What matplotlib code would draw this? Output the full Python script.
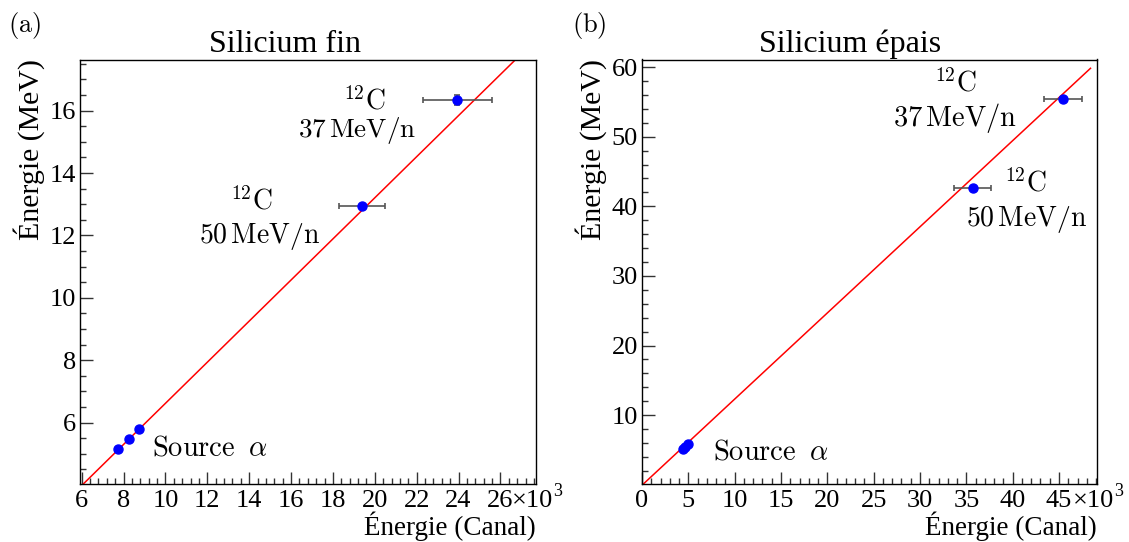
import numpy as np
import matplotlib
matplotlib.use("Agg")
import matplotlib.pyplot as plt
from matplotlib.ticker import MultipleLocator

plt.rcParams['font.family'] = ['Liberation Serif', 'DejaVu Serif']
plt.rcParams['mathtext.fontset'] = 'cm'

# Calibration points, channel values in units of 10^3
fin_canal = [7.74, 8.25, 8.73, 19.40, 23.95]
fin_canal_err = [0.0, 0.0, 0.0, 1.10, 1.67]
fin_energie = [5.157, 5.486, 5.805, 12.93, 16.34]
fin_energie_err = [0.0, 0.0, 0.0, 0.0, 0.16]
fin_fit = (0.026, 0.659)          # intercept, slope

epais_canal = [4.40, 4.66, 4.92, 35.67, 45.46]
epais_canal_err = [0.0, 0.0, 0.0, 2.04, 2.03]
epais_energie = [5.157, 5.486, 5.805, 42.68, 55.48]
epais_energie_err = [0.0, 0.0, 0.0, 0.0, 0.0]
epais_fit = (-0.08, 1.238)
epais_fit_range = (0.0, 48.4)

W, H = 1129, 542
fig = plt.figure(figsize=(W / 100, H / 100), dpi=100)


def px_axes(x0, x1, y0, y1):
    return fig.add_axes([x0 / W, 1 - y1 / H, (x1 - x0) / W, (y1 - y0) / H])


def style_axes(ax, xmaj, xmin, ymaj, ymin):
    ax.xaxis.set_major_locator(MultipleLocator(xmaj))
    ax.xaxis.set_minor_locator(MultipleLocator(xmin))
    ax.yaxis.set_major_locator(MultipleLocator(ymaj))
    ax.yaxis.set_minor_locator(MultipleLocator(ymin))
    ax.tick_params(which='both', direction='in', top=False, right=False,
                   color='#333333', labelsize=19)
    ax.tick_params(which='major', length=9, width=1.0)
    ax.tick_params(which='minor', length=4.5, width=1.0)
    ax.tick_params(axis='y', pad=3)
    ax.tick_params(axis='x', pad=4)
    for s in ax.spines.values():
        s.set_linewidth(1.0)
    ax.set_xlabel('Énergie (Canal)', loc='right', fontsize=19.5, labelpad=0)
    ax.set_ylabel('Énergie (MeV)', loc='top', fontsize=21.5, labelpad=3)
    # exponent of the channel axis
    ax.annotate('×10', xy=(1, 0), xycoords='axes fraction', xytext=(12.5, -4),
                textcoords='offset points', ha='right', va='top', fontsize=19)
    ax.annotate('3', xy=(1, 0), xycoords='axes fraction', xytext=(12.5, 1),
                textcoords='offset points', ha='left', va='top', fontsize=13)


def draw(ax, x, xerr, y, yerr, fit, xr):
    xs = np.linspace(xr[0], xr[1], 200)
    ax.plot(xs, fit[0] + fit[1] * xs, color='red', lw=1.1, zorder=2)
    ax.errorbar(x, y, xerr=xerr, yerr=yerr, fmt='none', ecolor='#555555',
                elinewidth=1.2, capsize=2.5, capthick=1.2, zorder=3)
    ax.plot(x, y, 'o', color='#0000ff', ms=6.5, zorder=4)


def note(ax, x, y, s, ha='center', size=20):
    ax.text(x, y, s, transform=ax.transAxes, ha=ha, va='baseline',
            fontsize=size, math_fontfamily='cm')


# (a) thin silicon
ax1 = px_axes(80, 536, 59.5, 484)
draw(ax1, fin_canal, fin_canal_err, fin_energie, fin_energie_err, fin_fit, (0, 30))
ax1.set_xlim(5.92, 27.7)
ax1.set_ylim(4.03, 17.64)
style_axes(ax1, 2, 0.4, 2, 0.5)
note(ax1, 0.623, 0.882, r'$^{12}\mathrm{C}$')
note(ax1, 0.607, 0.817, r'$37\,\mathrm{MeV/n}$', size=19.5)
note(ax1, 0.377, 0.647, r'$^{12}\mathrm{C}$')
note(ax1, 0.395, 0.568, r'$50\,\mathrm{MeV/n}$')
note(ax1, 0.158, 0.068, r'$\mathrm{Source}\;\;\alpha$', ha='left', size=20.5)

# (b) thick silicon
ax2 = px_axes(642, 1097, 59.5, 484)
draw(ax2, epais_canal, epais_canal_err, epais_energie, epais_energie_err,
     epais_fit, epais_fit_range)
ax2.set_xlim(0, 49.1)
ax2.set_ylim(0.1, 61.1)
style_axes(ax2, 5, 1, 10, 2)
note(ax2, 0.688, 0.925, r'$^{12}\mathrm{C}$')
note(ax2, 0.688, 0.843, r'$37\,\mathrm{MeV/n}$', size=20.5)
note(ax2, 0.842, 0.688, r'$^{12}\mathrm{C}$')
note(ax2, 0.846, 0.608, r'$50\,\mathrm{MeV/n}$')
note(ax2, 0.156, 0.057, r'$\mathrm{Source}\;\;\alpha$', ha='left', size=20.5)

fig.text(285 / W, 1 - 52 / H, 'Silicium fin', ha='center', va='baseline', fontsize=23)
fig.text(850 / W, 1 - 52 / H, 'Silicium épais', ha='center', va='baseline', fontsize=23)
fig.text(8 / W, 1 - 32 / H, r'$\mathrm{(a)}$', ha='left', va='baseline',
         fontsize=19, math_fontfamily='cm')
fig.text(572 / W, 1 - 32 / H, r'$\mathrm{(b)}$', ha='left', va='baseline',
         fontsize=19, math_fontfamily='cm')

fig.savefig('out.png', dpi=100)
